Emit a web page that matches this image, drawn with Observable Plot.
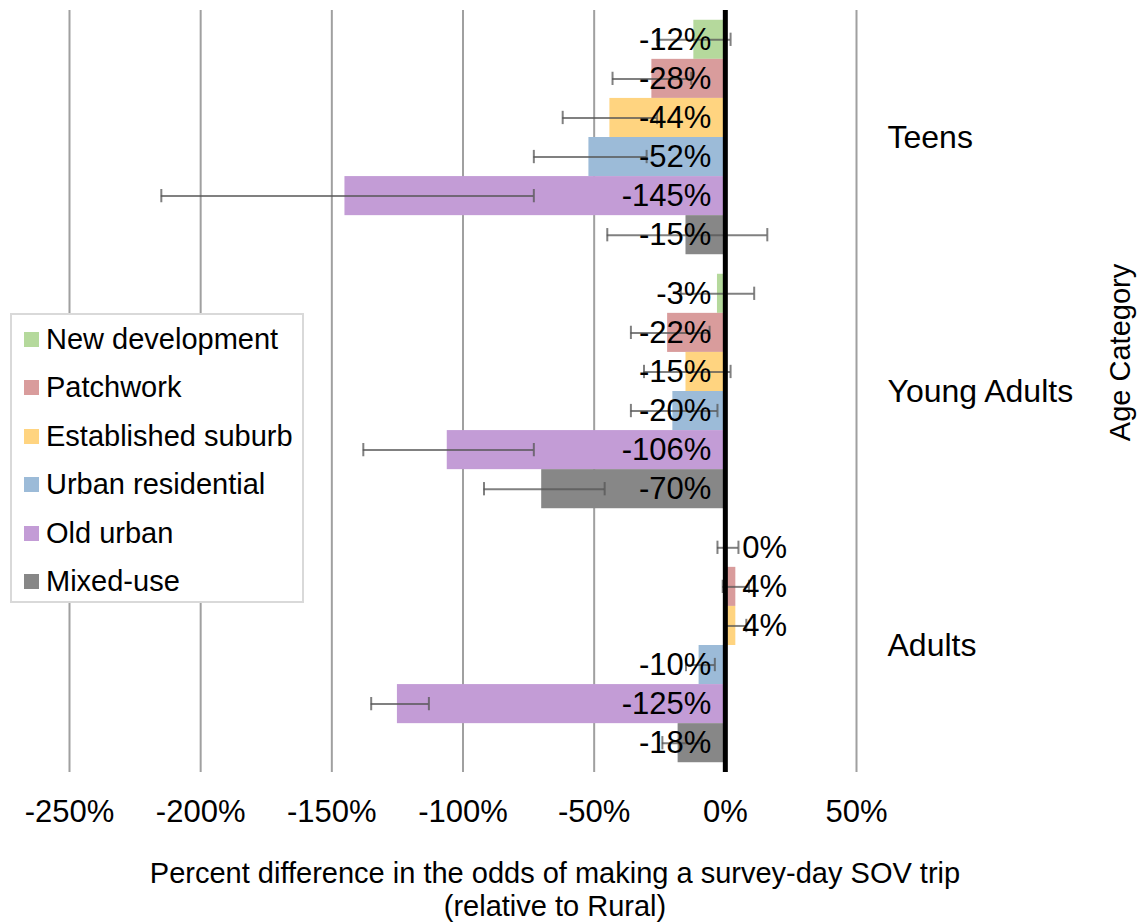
<!DOCTYPE html>
<html>
<head>
<meta charset="utf-8">
<script src="https://cdn.jsdelivr.net/npm/d3@7"></script>
<script src="https://cdn.jsdelivr.net/npm/@observablehq/plot@0.6"></script>
<style>
  html, body { margin: 0; padding: 0; background: #fff; }
  #wrap { position: relative; width: 1137px; height: 924px; font-family: "Liberation Sans", Arial, sans-serif; }
  #legend { position: absolute; left: 10px; top: 313px; width: 290px; height: 286px; border: 2px solid #d9d9d9; background: #fff; box-sizing: content-box; }
  .item { position: absolute; left: 12px; height: 30px; display: flex; align-items: center; font-size: 29px; color: #000; white-space: nowrap; }
  .sw { width: 15px; height: 15px; margin-right: 7px; flex: none; }
</style>
</head>
<body>
<div id="wrap"></div>
<script>
const groups = ["Teens", "Young Adults", "Adults"];
const categories = ["New development", "Patchwork", "Established suburb", "Urban residential", "Old urban", "Mixed-use"];
const colors = ["#b5d99c", "#d99c9c", "#ffd480", "#9cbbd8", "#c39cd6", "#878787"];

const teensValues = [-12, -28, -44, -52, -145, -15];
const youngAdultsValues = [-3, -22, -15, -20, -106, -70];
const adultsValues = [0, 4, 4, -10, -125, -18];

const teensErrLow = [-26, -43, -62, -73, -215, -45];
const teensErrHigh = [2, -13, -26, -30, -73, 16];
const youngAdultsErrLow = [-17, -36, -31, -36, -138, -92];
const youngAdultsErrHigh = [11, -6, 2, -3, -73, -46];
const adultsErrLow = [-3, -1, 0, -15, -135, -24];
const adultsErrHigh = [5, 9, 8, -4, -113, -9];

const xTicks = [-250, -200, -150, -100, -50, 0, 50];
const axisTitle = "Percent difference in the odds of making a survey-day SOV trip\n(relative to Rural)";
const yTitle = "Age Category";

const valueSets = [teensValues, youngAdultsValues, adultsValues];
const lowSets = [teensErrLow, youngAdultsErrLow, adultsErrLow];
const highSets = [teensErrHigh, youngAdultsErrHigh, adultsErrHigh];
const groupStride = categories.length + 0.5;

const rows = [];
groups.forEach((g, gi) => {
  categories.forEach((c, ci) => {
    const pos = gi * groupStride + ci;
    rows.push({
      group: g, category: c, value: valueSets[gi][ci],
      lo: lowSets[gi][ci], hi: highSets[gi][ci],
      y1: pos, y2: pos + 1, yc: pos + 0.5,
      label: valueSets[gi][ci] + "%"
    });
  });
});
const groupRows = groups.map((g, gi) => ({group: g, yc: gi * groupStride + categories.length / 2}));
const yMax = (groups.length - 1) * groupStride + categories.length;

const font = "Liberation Sans, Arial, sans-serif";
const capH = 0.17;

const chart = Plot.plot({
  width: 1137,
  height: 924,
  marginLeft: 69,
  marginRight: 281,
  marginTop: 10,
  marginBottom: 152,
  style: {fontFamily: font, fontSize: "28px", color: "#000", background: "#fff", overflow: "visible"},
  x: {domain: [-250, 50], ticks: xTicks, tickFormat: d => d + "%"},
  y: {domain: [-0.25, yMax + 0.25], reverse: true, axis: null},
  color: {domain: categories, range: colors},
  marks: [
    Plot.gridX(xTicks, {stroke: "#a0a0a0", strokeWidth: 2, strokeOpacity: 1}),
    Plot.rectX(rows, {x1: 0, x2: "value", y1: "y1", y2: "y2", fill: "category", fillOpacity: 1}),
    Plot.ruleY(rows, {x1: "lo", x2: "hi", y: "yc", stroke: "#555", strokeOpacity: 0.75, strokeWidth: 2}),
    Plot.ruleX(rows, {x: "lo", y1: d => d.yc - capH, y2: d => d.yc + capH, stroke: "#555", strokeOpacity: 0.75, strokeWidth: 2}),
    Plot.ruleX(rows, {x: "hi", y1: d => d.yc - capH, y2: d => d.yc + capH, stroke: "#555", strokeOpacity: 0.75, strokeWidth: 2}),
    Plot.ruleX([0], {stroke: "#000", strokeWidth: 5}),
    Plot.text(rows.filter(d => d.value < 0), {x: 0, y: "yc", text: "label", textAnchor: "end", dx: -14, fontSize: 31, fill: "#000"}),
    Plot.text(rows.filter(d => d.value >= 0), {x: 0, y: "yc", text: "label", textAnchor: "start", dx: 17, fontSize: 31, fill: "#000"}),
    Plot.axisX({ticks: xTicks, tickFormat: d => d + "%", tickSize: 0, tickPadding: 27, fontSize: 31, label: null}),
    Plot.text(groupRows, {x: 50, y: "yc", text: "group", textAnchor: "start", dx: 31, fontSize: 32, fill: "#000"}),
    Plot.text([yTitle], {frameAnchor: "right", textAnchor: "middle", rotate: -90, dx: 264, dy: -39, fontSize: 29, fill: "#000"}),
    Plot.text([axisTitle], {frameAnchor: "bottom", lineAnchor: "middle", dx: 92, dy: 116, fontSize: 29, lineHeight: 1.14, fill: "#000"})
  ]
});

const wrap = document.getElementById("wrap");
wrap.appendChild(chart);

const legend = document.createElement("div");
legend.id = "legend";
categories.forEach((c, i) => {
  const item = document.createElement("div");
  item.className = "item";
  item.style.top = (9 + i * 48.5) + "px";
  const sw = document.createElement("span");
  sw.className = "sw";
  sw.style.background = colors[i];
  const t = document.createElement("span");
  t.textContent = c;
  item.appendChild(sw);
  item.appendChild(t);
  legend.appendChild(item);
});
wrap.appendChild(legend);
</script>
</body>
</html>
